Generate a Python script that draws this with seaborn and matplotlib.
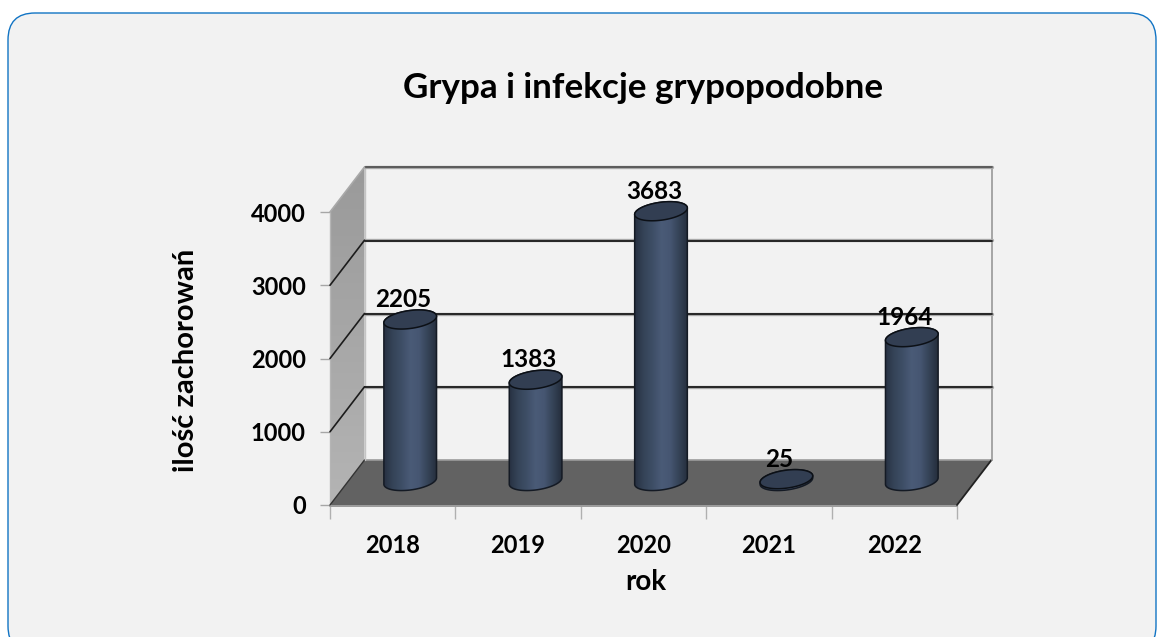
import numpy as np
import matplotlib
matplotlib.use("Agg")
import matplotlib.pyplot as plt
from matplotlib.patches import FancyBboxPatch, Polygon
from matplotlib.transforms import Affine2D
import seaborn as sns

years = ["2018", "2019", "2020", "2021", "2022"]
cases = [2205, 1383, 3683, 25, 1964]
y_ticks = [0, 1000, 2000, 3000, 4000]
title = "Grypa i infekcje grypopodobne"
x_title = "rok"
y_title = "ilość zachorowań"

W, H = 1157, 637
sns.set_theme(style="white")
plt.rcParams["font.family"] = ["Lato", "DejaVu Sans"]
plt.rcParams["font.weight"] = "bold"

fig = plt.figure(figsize=(W / 100, H / 100), dpi=100, facecolor="white")
px = Affine2D().scale(1, -1).translate(0, H)   # pixel coordinates, y down


def frac(l, t, r, b):
    return [l / W, 1 - b / H, (r - l) / W, (b - t) / H]


# rounded panel
fig.add_artist(FancyBboxPatch((8 + 27, 13 + 27), 1148 - 54, 640 - 54,
                              boxstyle="round,pad=27,rounding_size=27",
                              fc="#f2f2f2", ec="#1174c4", lw=1.0,
                              transform=px, clip_on=False))

# geometry of the 3-D frame
FL, FR, FB, FT = 330, 957, 505, 212
DX, DY = 34.5, -45

# --- front axes: ticks and walls
ax = fig.add_axes(frac(FL, FT, FR, FB), facecolor="none", zorder=1)
ax.set_xlim(-0.5, 4.5)
ax.set_ylim(0, 4000)
for s in ax.spines.values():
    s.set_visible(False)
ax.set_yticks(y_ticks)
ax.set_xticks(range(len(years)), years)
ax.set_xticks(np.arange(-0.5, 5), minor=True)
ax.tick_params(axis="y", which="major", length=7, color="#a6a6a6", width=1,
               left=True, labelsize=17, pad=10.5, labelcolor="black")
ax.tick_params(axis="x", which="major", length=0, labelsize=17, pad=21, labelcolor="black")
ax.tick_params(axis="x", which="minor", length=10, color="#b0b0b0", width=1, bottom=True)
for lab in ax.get_xticklabels() + ax.get_yticklabels():
    lab.set_fontweight("bold")

# left wall with gradient
wall = Polygon([(FL, FB), (FL + DX, FB + DY), (FL + DX, FT + DY), (FL, FT)],
               closed=True, transform=px, fc="none", ec="none", clip_on=False)
ax.add_patch(wall)
im = ax.imshow(np.linspace(0, 1, 64)[:, None], extent=(FL, FL + DX, FB, FT + DY),
               cmap=matplotlib.colors.LinearSegmentedColormap.from_list("w", ["#9a9a9a", "#b4b4b4"]),
               aspect="auto", transform=px, origin="upper", zorder=1)
im.set_clip_box(fig.bbox)
im.set_clip_path(wall)
ax.set_xlim(-0.5, 4.5)
ax.set_ylim(0, 4000)

# floor
ax.add_patch(Polygon([(FL, FB), (FL + DX, FB + DY), (FR + DX, FB + DY), (FR, FB)],
                     closed=True, transform=px, fc="#626262", ec="none", zorder=2, clip_on=False))
ln = dict(transform=px, clip_on=False)
ax.plot([FL, FR], [FB + 1, FB + 1], color="#9a9a9a", lw=1.4, zorder=3, **ln)
ax.plot([FL + DX, FR + DX], [FB + DY, FB + DY], color="#9c9c9c", lw=1.2, zorder=3, **ln)
ax.plot([FR, FR + DX], [FB, FB + DY], color="#222222", lw=1.3, zorder=3, **ln)
ax.plot([FR + DX, FR + DX], [FB + DY, FT + DY], color="#a0a0a0", lw=1.3, zorder=3, **ln)
ax.plot([FL, FL], [FB, FT], color="#b5b5b5", lw=1, zorder=3, **ln)
ax.plot([FL, FL + DX], [FB, FB + DY], color="#333333", lw=1.0, zorder=3, **ln)
ax.plot([FL + DX, FL + DX], [FB + DY, FT + DY], color="#c4c4c4", lw=1, zorder=3, **ln)

# gridlines on both walls, placed from the tick values
for v in y_ticks[1:]:
    fy = ax.transData.transform((0, v))[1]
    py = H - fy
    col = "#555555" if v == y_ticks[-1] else "#1c1c1c"
    ax.plot([FL + DX, FR + DX], [py + DY, py + DY], color="#a8a8a8", lw=2.4, zorder=3, **ln)
    ax.plot([FL + DX, FR + DX], [py + DY + .3, py + DY + .3], color=col, lw=1.3, zorder=3.1, **ln)
    ax.plot([FL, FL + DX], [py, py + DY], color="#a9a9a9" if v == y_ticks[-1] else "#1c1c1c",
            lw=1.2, zorder=3.1, **ln)

# --- bars: axes shifted to mid-depth of the frame
SX, SY = 17.5, -24
bx = fig.add_axes(frac(FL + SX, FT + SY, FR + SX, FB + SY), facecolor="none", zorder=2)
sns.barplot(x=years, y=cases, ax=bx, color="#44597a", width=0.42, saturation=1,
            dodge=False, linewidth=0)
bx.set_xlim(-0.5, 4.5)
bx.set_ylim(0, 4000)
bx.axis("off")

side = matplotlib.colors.LinearSegmentedColormap.from_list(
    "cyl", ["#273142", "#354458", "#3e4e66", "#4a5b77", "#465672", "#354357", "#252e3c"])
A_TILT = np.tan(np.radians(7))
B = 9

for bar, value in zip(bx.patches, cases):
    x0, y0 = bx.transData.transform((bar.get_x(), 0))
    x1, y1 = bx.transData.transform((bar.get_x() + bar.get_width(), bar.get_height()))
    a = (x1 - x0) / 2
    cx = (x0 + x1) / 2
    base, top = H - y0, H - y1
    t = np.linspace(0, np.pi, 60)
    lower = np.c_[cx + a * np.cos(t), base - a * np.cos(t) * A_TILT + B * np.sin(t)]
    t2 = t + np.pi
    upper = np.c_[cx + a * np.cos(t2), top - a * np.cos(t2) * A_TILT + B * np.sin(t2)]
    poly = Polygon(np.vstack([lower, upper]), closed=True, transform=px, fc="none",
                   ec="#141a24", lw=1.1, zorder=4, clip_on=False)
    bx.add_patch(poly)
    bar.set_clip_path(poly)
    g = bx.imshow(np.linspace(0, 1, 128)[None, :], extent=(cx - a, cx + a, base + 20, top - 20),
                  cmap=side, aspect="auto", transform=px, zorder=3)
    g.set_clip_box(fig.bbox)
    g.set_clip_path(poly)
    t3 = np.linspace(0, 2 * np.pi, 120)
    cap = np.c_[cx + a * np.cos(t3), top - a * np.cos(t3) * A_TILT + B * np.sin(t3)]
    bx.add_patch(Polygon(cap, closed=True, transform=px, fc="#323e52", ec="#0c1016",
                         lw=1.1, zorder=5, clip_on=False))
    bx.annotate(str(value), xy=(bar.get_x() + bar.get_width() / 2, value),
                xytext=(-7 * 0.72, 20 * 0.72), textcoords="offset points",
                ha="center", va="center", fontsize=17.5, fontweight="bold",
                color="black", zorder=6, annotation_clip=False)

bx.set_xlim(-0.5, 4.5)
bx.set_ylim(0, 4000)

# --- texts
fig.text(643, 88, title, transform=px, ha="center", va="center", fontsize=25.2,
         fontweight="bold", color="black")
fig.text(646, 582, x_title, transform=px, ha="center", va="center", fontsize=20,
         fontweight="bold", color="black")
fig.text(186, 360, y_title, transform=px, ha="center", va="center", fontsize=21,
         fontweight="bold", color="black", rotation=90)

fig.savefig("out.png", dpi=100, facecolor="white")
